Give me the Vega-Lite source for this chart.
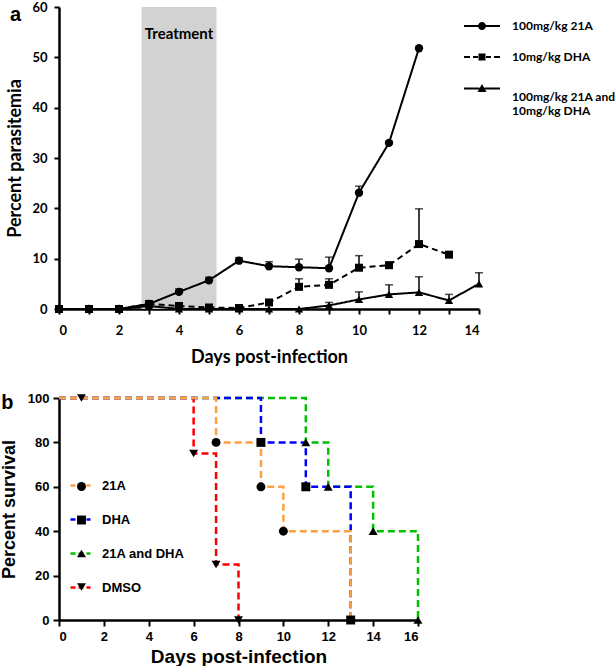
{
  "$schema": "https://vega.github.io/schema/vega-lite/v6.json",
  "background": "white",
  "padding": {"left": 0, "top": 1, "right": 0, "bottom": 0},
  "config": {"view": {"stroke": null}},
  "spacing": 26,
  "resolve": {
    "scale": {"color": "independent", "shape": "independent", "strokeDash": "independent"},
    "legend": {"color": "independent", "shape": "independent", "strokeDash": "independent"}
  },
  "datasets": {
    "parasitemia": [
      {"series": "100mg/kg 21A", "day": 0, "value": 0, "upper": null},
      {"series": "100mg/kg 21A", "day": 1, "value": 0, "upper": null},
      {"series": "100mg/kg 21A", "day": 2, "value": 0, "upper": null},
      {"series": "100mg/kg 21A", "day": 3, "value": 1.0, "upper": 1.4},
      {"series": "100mg/kg 21A", "day": 4, "value": 3.4, "upper": 4.0},
      {"series": "100mg/kg 21A", "day": 5, "value": 5.7, "upper": 6.3},
      {"series": "100mg/kg 21A", "day": 6, "value": 9.6, "upper": 10.2},
      {"series": "100mg/kg 21A", "day": 7, "value": 8.5, "upper": 9.4},
      {"series": "100mg/kg 21A", "day": 8, "value": 8.3, "upper": 9.9},
      {"series": "100mg/kg 21A", "day": 9, "value": 8.1, "upper": 10.3},
      {"series": "100mg/kg 21A", "day": 10, "value": 23.1, "upper": 24.4},
      {"series": "100mg/kg 21A", "day": 11, "value": 33.0, "upper": 33.3},
      {"series": "100mg/kg 21A", "day": 12, "value": 51.8, "upper": null},
      {"series": "10mg/kg DHA", "day": 0, "value": 0, "upper": null},
      {"series": "10mg/kg DHA", "day": 1, "value": 0, "upper": null},
      {"series": "10mg/kg DHA", "day": 2, "value": 0, "upper": null},
      {"series": "10mg/kg DHA", "day": 3, "value": 1.0, "upper": null},
      {"series": "10mg/kg DHA", "day": 4, "value": 0.6, "upper": 1.0},
      {"series": "10mg/kg DHA", "day": 5, "value": 0.3, "upper": null},
      {"series": "10mg/kg DHA", "day": 6, "value": 0.2, "upper": null},
      {"series": "10mg/kg DHA", "day": 7, "value": 1.3, "upper": null},
      {"series": "10mg/kg DHA", "day": 8, "value": 4.4, "upper": 6.0},
      {"series": "10mg/kg DHA", "day": 9, "value": 4.8, "upper": 6.0},
      {"series": "10mg/kg DHA", "day": 10, "value": 8.2, "upper": 10.6},
      {"series": "10mg/kg DHA", "day": 11, "value": 8.7, "upper": 9.3},
      {"series": "10mg/kg DHA", "day": 12, "value": 12.9, "upper": 19.9},
      {"series": "10mg/kg DHA", "day": 13, "value": 10.8, "upper": null},
      {"series": "100mg/kg 21A and 10mg/kg DHA", "day": 0, "value": 0, "upper": null},
      {"series": "100mg/kg 21A and 10mg/kg DHA", "day": 1, "value": 0, "upper": null},
      {"series": "100mg/kg 21A and 10mg/kg DHA", "day": 2, "value": 0, "upper": null},
      {"series": "100mg/kg 21A and 10mg/kg DHA", "day": 3, "value": 0.6, "upper": null},
      {"series": "100mg/kg 21A and 10mg/kg DHA", "day": 4, "value": 0, "upper": null},
      {"series": "100mg/kg 21A and 10mg/kg DHA", "day": 5, "value": 0, "upper": null},
      {"series": "100mg/kg 21A and 10mg/kg DHA", "day": 6, "value": 0, "upper": null},
      {"series": "100mg/kg 21A and 10mg/kg DHA", "day": 7, "value": 0, "upper": null},
      {"series": "100mg/kg 21A and 10mg/kg DHA", "day": 8, "value": 0, "upper": null},
      {"series": "100mg/kg 21A and 10mg/kg DHA", "day": 9, "value": 0.7, "upper": 1.3},
      {"series": "100mg/kg 21A and 10mg/kg DHA", "day": 10, "value": 1.9, "upper": 3.4},
      {"series": "100mg/kg 21A and 10mg/kg DHA", "day": 11, "value": 2.9, "upper": 4.8},
      {"series": "100mg/kg 21A and 10mg/kg DHA", "day": 12, "value": 3.3, "upper": 6.4},
      {"series": "100mg/kg 21A and 10mg/kg DHA", "day": 13, "value": 1.7, "upper": 2.9},
      {"series": "100mg/kg 21A and 10mg/kg DHA", "day": 14, "value": 5.0, "upper": 7.2}
    ],
    "treatment": [{"day": 2.75, "day2": 5.25, "value": 0, "value2": 60}],
    "treatment_label": [{"day": 4, "value": 54.6, "label": "Treatment"}],
    "label_a": [{"day": -1.45, "value": 58.4, "label": "a"}],
    "label_b": [{"day": -2.3, "value": 97.7, "label": "b"}],
    "km_steps": [
      {"series": "21A and DHA", "day": 0, "value": 100},
      {"series": "21A and DHA", "day": 11, "value": 80},
      {"series": "21A and DHA", "day": 12, "value": 60},
      {"series": "21A and DHA", "day": 14, "value": 40},
      {"series": "21A and DHA", "day": 16, "value": 0},
      {"series": "DMSO", "day": 0, "value": 100},
      {"series": "DMSO", "day": 6, "value": 75},
      {"series": "DMSO", "day": 7, "value": 25},
      {"series": "DMSO", "day": 8, "value": 0},
      {"series": "DHA", "day": 0, "value": 100},
      {"series": "DHA", "day": 9, "value": 80},
      {"series": "DHA", "day": 11, "value": 60},
      {"series": "DHA", "day": 13, "value": 0},
      {"series": "21A", "day": 0, "value": 100},
      {"series": "21A", "day": 7, "value": 80},
      {"series": "21A", "day": 9, "value": 60},
      {"series": "21A", "day": 10, "value": 40},
      {"series": "21A", "day": 13, "value": 0}
    ],
    "km_events": [
      {"arm": "21A", "day": 7, "value": 80},
      {"arm": "21A", "day": 9, "value": 60},
      {"arm": "21A", "day": 10, "value": 40},
      {"arm": "DHA", "day": 9, "value": 80},
      {"arm": "DHA", "day": 11, "value": 60},
      {"arm": "DHA", "day": 13, "value": 0},
      {"arm": "21A and DHA", "day": 11, "value": 80},
      {"arm": "21A and DHA", "day": 12, "value": 60},
      {"arm": "21A and DHA", "day": 14, "value": 40},
      {"arm": "21A and DHA", "day": 16, "value": 0},
      {"arm": "DMSO", "day": 1, "value": 100},
      {"arm": "DMSO", "day": 6, "value": 75},
      {"arm": "DMSO", "day": 7, "value": 25},
      {"arm": "DMSO", "day": 8, "value": 0}
    ]
  },
  "vconcat": [
    {
      "width": 420,
      "height": 302,
      "encoding": {
        "x": {
          "field": "day", "type": "quantitative", "title": "Days post-infection",
          "scale": {"domain": [0, 14], "nice": false, "zero": false},
          "axis": {
            "values": [0,1,2,3,4,5,6,7,8,9,10,11,12,13,14],
            "labelExpr": "datum.value % 2 === 0 ? datum.label : ''",
            "grid": false, "domainColor": "black", "domainWidth": 2.5,
            "tickColor": "black", "tickWidth": 2, "tickSize": 5,
            "labelFont": "Lato", "labelFontWeight": "bold", "labelFontSize": 13, "labelColor": "black", "labelPadding": 10,
            "titleFont": "Lato", "titleFontWeight": "bold", "titleFontSize": 18, "titleColor": "black", "titlePadding": 11
          }
        },
        "y": {
          "field": "value", "type": "quantitative", "title": "Percent parasitemia",
          "scale": {"domain": [0, 60], "nice": false},
          "axis": {
            "values": [0,10,20,30,40,50,60],
            "grid": false, "domainColor": "black", "domainWidth": 2.5,
            "tickColor": "black", "tickWidth": 2, "tickSize": 5,
            "labelFont": "Lato", "labelFontWeight": "bold", "labelFontSize": 13, "labelColor": "black", "labelPadding": 7,
            "titleFont": "Lato", "titleFontWeight": "bold", "titleFontSize": 18, "titleColor": "black", "titlePadding": 7
          }
        }
      },
      "layer": [
        {
          "data": {"name": "treatment"},
          "mark": {"type": "rect", "color": "#d2d2d2"},
          "encoding": {"x2": {"field": "day2"}, "y2": {"field": "value2"}}
        },
        {
          "data": {"name": "treatment_label"},
          "mark": {"type": "text", "font": "Lato", "fontWeight": "bold", "fontSize": 15, "color": "black"},
          "encoding": {"text": {"field": "label"}}
        },
        {
          "data": {"name": "parasitemia"},
          "transform": [{"filter": "datum.upper != null"}],
          "mark": {"type": "rule", "color": "black", "strokeWidth": 1.5},
          "encoding": {"y2": {"field": "upper"}}
        },
        {
          "data": {"name": "parasitemia"},
          "transform": [{"filter": "datum.upper != null"}],
          "mark": {"type": "tick", "orient": "horizontal", "color": "black", "thickness": 1.5, "size": 8},
          "encoding": {"y": {"field": "upper", "type": "quantitative", "title": "Percent parasitemia"}}
        },
        {
          "data": {"name": "parasitemia"},
          "mark": {"type": "line", "color": "black", "strokeWidth": 2},
          "encoding": {
            "strokeDash": {
              "field": "series", "type": "nominal",
              "scale": {"range": [[1, 0], [1, 0], [6, 4]]},
              "legend": null
            }
          }
        },
        {
          "data": {"name": "parasitemia"},
          "transform": [{"filter": "datum.series === '100mg/kg 21A'"}],
          "mark": {"type": "point", "shape": "circle", "filled": true, "color": "black", "opacity": 1, "size": 70}
        },
        {
          "data": {"name": "parasitemia"},
          "transform": [{"filter": "datum.series === '10mg/kg DHA'"}],
          "mark": {"type": "point", "shape": "square", "filled": true, "color": "black", "opacity": 1, "size": 64}
        },
        {
          "data": {"name": "parasitemia"},
          "transform": [{"filter": "datum.series === '100mg/kg 21A and 10mg/kg DHA'"}],
          "mark": {"type": "point", "shape": "triangle-up", "filled": true, "color": "black", "opacity": 1, "size": 70}
        },
        {
          "data": {"name": "parasitemia"},
          "transform": [{"filter": "false"}],
          "mark": {"type": "point", "filled": true, "color": "black", "opacity": 1},
          "encoding": {
            "shape": {
              "field": "series", "type": "nominal",
              "scale": {
                "domain": ["100mg/kg 21A", "10mg/kg DHA", "100mg/kg 21A and 10mg/kg DHA"],
                "range": [
                  "M-3.6,-0.2H-0.78V0.2H-3.6ZM0.78,-0.2H3.6V0.2H0.78ZM0.8,0A0.8,0.8 0 1,1 -0.8,0A0.8,0.8 0 1,1 0.8,0Z",
                  "M-3.6,-0.2H-2.4V0.2H-3.6ZM-1.8,-0.2H-0.8V0.2H-1.8ZM0.8,-0.2H1.8V0.2H0.8ZM2.4,-0.2H3.6V0.2H2.4ZM-0.7,-0.7H0.7V0.7H-0.7Z",
                  "M-3.6,-1.9H-0.5V-1.5H-3.6ZM0.5,-1.9H3.6V-1.5H0.5ZM0,-2.6L0.9,-1.0H-0.9Z"
                ]
              },
              "legend": {
                "orient": "none", "legendX": 417, "legendY": 13, "title": null, "padding": 0,
                "symbolSize": 100,
                "labelFont": "Lato", "labelFontWeight": "bold", "labelFontSize": 12, "labelColor": "black",
                "labelOffset": 24, "rowPadding": 17, "labelLimit": 300,
                "labelExpr": "datum.label === '100mg/kg 21A and 10mg/kg DHA' ? ['100mg/kg 21A and', '10mg/kg DHA'] : datum.label"
              }
            }
          }
        },
        {
          "data": {"name": "label_a"},
          "mark": {"type": "text", "font": "Liberation Sans", "fontWeight": "bold", "fontSize": 20, "color": "black"},
          "encoding": {"text": {"field": "label"}}
        }
      ]
    },
    {
      "width": 359,
      "height": 222,
      "encoding": {
        "x": {
          "field": "day", "type": "quantitative", "title": "Days post-infection",
          "scale": {"domain": [0, 16], "nice": false, "zero": false},
          "axis": {
            "values": [0,2,4,6,8,10,12,14,16],
            "grid": false, "domainColor": "black", "domainWidth": 2.5,
            "tickColor": "black", "tickWidth": 2, "tickSize": 6,
            "labelFont": "Liberation Sans", "labelFontWeight": "bold", "labelFontSize": 13, "labelColor": "black", "labelPadding": 4,
            "titleFont": "Liberation Sans", "titleFontWeight": "bold", "titleFontSize": 19, "titleColor": "black", "titlePadding": 4
          }
        },
        "y": {
          "field": "value", "type": "quantitative", "title": "Percent survival",
          "scale": {"domain": [0, 100], "nice": false},
          "axis": {
            "values": [0,20,40,60,80,100],
            "grid": false, "domainColor": "black", "domainWidth": 2.5,
            "tickColor": "black", "tickWidth": 2, "tickSize": 6,
            "labelFont": "Liberation Sans", "labelFontWeight": "bold", "labelFontSize": 13, "labelColor": "black", "labelPadding": 4,
            "titleFont": "Liberation Sans", "titleFontWeight": "bold", "titleFontSize": 18, "titleColor": "black", "titlePadding": 9
          }
        }
      },
      "layer": [
        {
          "data": {"name": "km_steps"},
          "mark": {"type": "line", "interpolate": "step-after", "strokeWidth": 2.5, "strokeDash": [7, 4]},
          "encoding": {
            "color": {
              "field": "series", "type": "nominal",
              "sort": ["21A", "DHA", "21A and DHA", "DMSO"],
              "scale": {"range": ["#FFA040", "#0000FF", "#00C000", "#FF0000"]},
              "legend": {
                "orient": "none", "legendX": 10, "legendY": 76, "title": null, "padding": 0,
                "symbolType": "stroke", "symbolSize": 400, "symbolStrokeWidth": 2.5, "symbolDash": [5, 3],
                "labelFont": "Liberation Sans", "labelFontWeight": "bold", "labelFontSize": 13, "labelColor": "black",
                "labelOffset": 10, "rowPadding": 15
              }
            }
          }
        },
        {
          "data": {"name": "km_events"},
          "mark": {"type": "point", "filled": true, "color": "black", "opacity": 1, "size": 80},
          "encoding": {
            "shape": {
              "field": "arm", "type": "nominal",
              "scale": {"domain": ["21A", "DHA", "21A and DHA", "DMSO"], "range": ["circle", "square", "triangle-up", "triangle-down"]},
              "legend": {
                "orient": "none", "legendX": 16, "legendY": 82, "title": null, "padding": 0,
                "symbolSize": 80,
                "labelFont": "Liberation Sans", "labelFontWeight": "bold", "labelFontSize": 13, "labelOpacity": 0,
                "labelOffset": 10, "rowPadding": 18.5
              }
            }
          }
        },
        {
          "data": {"name": "label_b"},
          "mark": {"type": "text", "font": "Liberation Sans", "fontWeight": "bold", "fontSize": 20, "color": "black"},
          "encoding": {"text": {"field": "label"}}
        }
      ]
    }
  ]
}
